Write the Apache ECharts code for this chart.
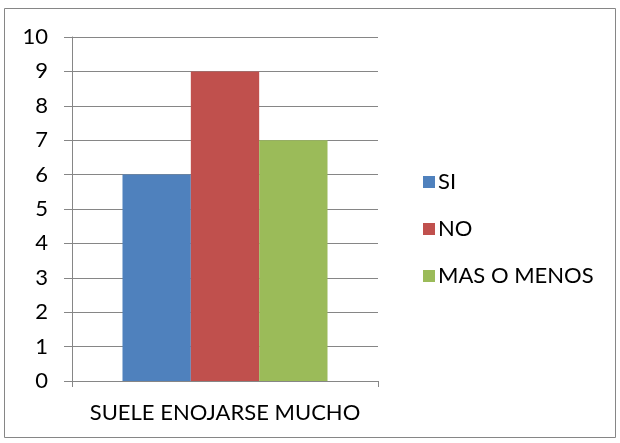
<!DOCTYPE html>
<html>
<head>
<meta charset="utf-8">
<script src="https://cdn.jsdelivr.net/npm/echarts@6/dist/echarts.min.js"></script>
<style>
  html, body { margin: 0; padding: 0; background: #fff; }
  #chart { width: 620px; height: 443px; }
</style>
</head>
<body>
<div id="chart"></div>
<script>
// data
var categories = ['SUELE ENOJARSE MUCHO'];
var seriesNames = ['SI', 'NO', 'MAS O MENOS'];
var siValues = [6];
var noValues = [9];
var masMenosValues = [7];
var colors = ['#4F81BD', '#C0504D', '#9BBB59'];

var font = 'Lato, Open Sans, sans-serif';
var axisGray = '#868686';

function legendAt(name, top) {
    return {
        data: [name],
        left: 418,
        top: top,
        itemWidth: 12,
        itemHeight: 12,
        icon: 'rect',
        selectedMode: false,
        textStyle: { fontFamily: font, fontSize: 22, color: '#000', padding: [0, 0, 0, -2] }
    };
}

var chart = echarts.init(document.getElementById('chart'));
chart.setOption({
    animation: false,
    color: colors,
    graphic: [{
        type: 'rect',
        shape: { x: 4.5, y: 8.5, width: 611, height: 429 },
        style: { fill: 'none', stroke: '#868686', lineWidth: 1 }
    }],
    legend: [
        legendAt(seriesNames[0], 166),
        legendAt(seriesNames[1], 213),
        legendAt(seriesNames[2], 260)
    ],
    grid: { left: 72, right: 242, top: 37, bottom: 62 },
    xAxis: {
        type: 'category',
        data: categories,
        axisLine: { lineStyle: { color: axisGray } },
        axisTick: { show: true, length: 6, lineStyle: { color: axisGray } },
        axisLabel: { fontFamily: font, fontSize: 22, color: '#000', margin: 21 }
    },
    yAxis: {
        type: 'value',
        min: 0,
        max: 10,
        interval: 1,
        axisLine: { show: true, lineStyle: { color: axisGray } },
        axisTick: { show: true, length: 8, lineStyle: { color: axisGray } },
        splitLine: { lineStyle: { color: axisGray } },
        axisLabel: { fontFamily: font, fontSize: 22, color: '#000', margin: 24 }
    },
    series: [
        { name: seriesNames[0], type: 'bar', data: siValues, barGap: '0%', barCategoryGap: '33%' },
        { name: seriesNames[1], type: 'bar', data: noValues, barGap: '0%', barCategoryGap: '33%' },
        { name: seriesNames[2], type: 'bar', data: masMenosValues, barGap: '0%', barCategoryGap: '33%' }
    ]
});
</script>
</body>
</html>
